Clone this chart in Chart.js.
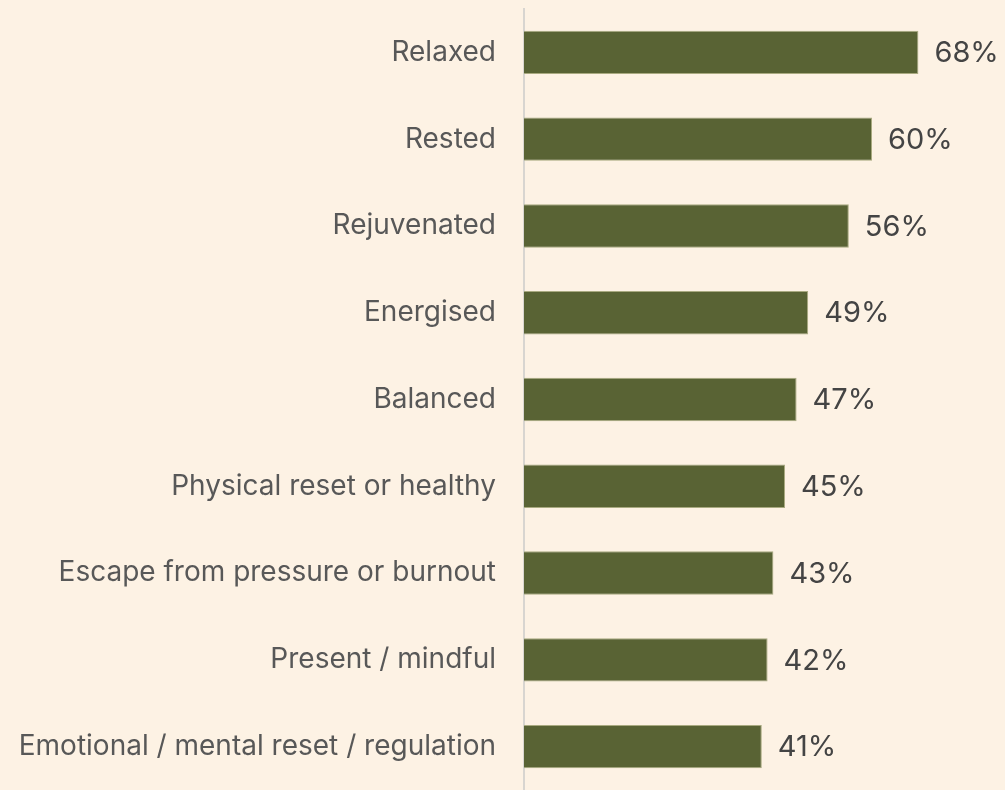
<!DOCTYPE html>
<html>
<head>
<meta charset="utf-8">
<script src="https://cdn.jsdelivr.net/npm/chart.js@4"></script>
<style>
  html, body { margin: 0; padding: 0; background: #fdf2e4; }
  #wrap { width: 1005px; height: 790px; }
</style>
</head>
<body>
<div id="wrap"><canvas id="myChart" width="1005" height="790"></canvas></div>
<script>
const labels = [
  "Relaxed",
  "Rested",
  "Rejuvenated",
  "Energised",
  "Balanced",
  "Physical reset or healthy",
  "Escape from pressure or burnout",
  "Present / mindful",
  "Emotional / mental reset / regulation",
];
const values = [68, 60, 56, 49, 47, 45, 43, 42, 41];

const FONT = "Inter, 'DejaVu Sans', sans-serif";

// value labels at the end of each bar
const valueLabels = {
  id: "valueLabels",
  afterDatasetsDraw(chart) {
    const ctx = chart.ctx;
    const meta = chart.getDatasetMeta(0);
    ctx.save();
    ctx.font = "29px " + FONT;
    ctx.fillStyle = "#444444";
    ctx.textBaseline = "middle";
    ctx.textAlign = "left";
    meta.data.forEach((bar, i) => {
      ctx.fillText(values[i] + "%", bar.x + 16, bar.y + 1);
    });
    ctx.restore();
  },
};

const config = {
  type: "bar",
  data: {
    labels: labels,
    datasets: [
      {
        data: values,
        backgroundColor: "#596334",
        borderColor: "#a9aa80",
        borderWidth: 1,
        borderSkipped: "left",
        barPercentage: 0.5,
        categoryPercentage: 1,
      },
    ],
  },
  options: {
    indexAxis: "y",
    responsive: false,
    animation: false,
    layout: {
      padding: { top: 9, bottom: 0, right: 17, left: 0 },
    },
    plugins: {
      legend: { display: false },
      tooltip: { enabled: false },
    },
    scales: {
      x: {
        display: false,
        min: 0,
        max: 80,
      },
      y: {
        afterFit: (scale) => {
          scale.width = 524;
          // tick padding should not eat vertical room
          scale.paddingTop = 0;
          scale.paddingBottom = 0;
        },
        grid: { display: false, drawTicks: false },
        border: { display: true, color: "#d8d5d0", width: 2 },
        ticks: {
          padding: 28,
          color: "#585858",
          font: { family: FONT, size: 28 },
        },
      },
    },
  },
  plugins: [valueLabels],
};

const myChart = new Chart(document.getElementById("myChart"), config);
</script>
</body>
</html>
